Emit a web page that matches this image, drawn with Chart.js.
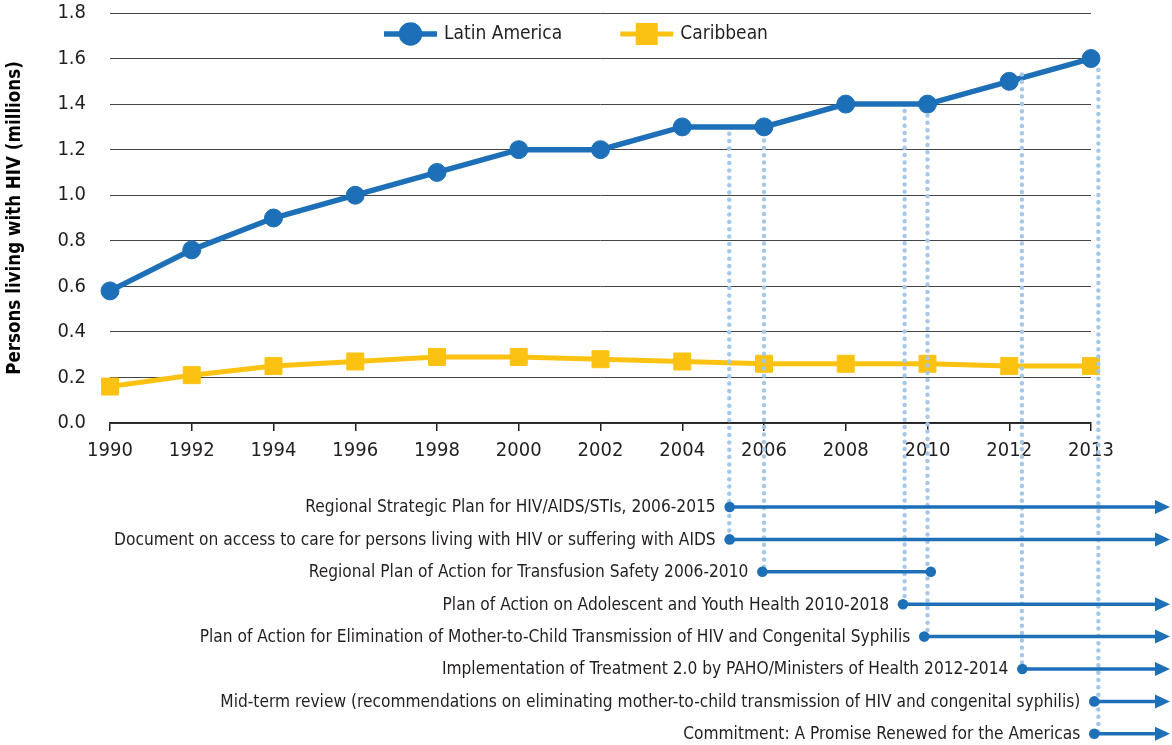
<!DOCTYPE html>
<html>
<head>
<meta charset="utf-8">
<script src="https://cdn.jsdelivr.net/npm/chart.js@4.4.0/dist/chart.umd.min.js"></script>
<style>
  html, body { margin: 0; padding: 0; background: #fff; }
  #wrap { width: 1172px; height: 745px; }
</style>
</head>
<body>
<div id="wrap"><canvas id="chart"></canvas></div>
<script>
const years = ['1990', '1992', '1994', '1996', '1998', '2000', '2002', '2004', '2006', '2008', '2010', '2012', '2013'];
const latinAmerica = [0.58, 0.76, 0.9, 1.0, 1.1, 1.2, 1.2, 1.3, 1.3, 1.4, 1.4, 1.5, 1.6];
const caribbean = [0.16, 0.21, 0.25, 0.27, 0.29, 0.29, 0.28, 0.27, 0.26, 0.26, 0.26, 0.25, 0.25];
const yTickValues = [0, 0.2, 0.4, 0.6, 0.8, 1.0, 1.2, 1.4, 1.6, 1.8];

// milestones below the axis; positions are category indexes on the x scale
const milestones = [
  'Regional Strategic Plan for HIV/AIDS/STIs, 2006-2015',
  'Document on access to care for persons living with HIV or suffering with AIDS',
  'Regional Plan of Action for Transfusion Safety 2006-2010',
  'Plan of Action on Adolescent and Youth Health 2010-2018',
  'Plan of Action for Elimination of Mother-to-Child Transmission of HIV and Congenital Syphilis',
  'Implementation of Treatment 2.0 by PAHO/Ministers of Health 2012-2014',
  'Mid-term review (recommendations on eliminating mother-to-child transmission of HIV and congenital syphilis)',
  'Commitment: A Promise Renewed for the Americas'
];
const milestoneStart = [7.58, 7.58, 7.98, 9.7, 9.96, 11.16, 12.04, 12.04];
const milestoneEnd = [null, null, 10.04, null, null, null, null, null]; // null = still running (arrow)

// dotted guides from the curve down to the milestone rows
const guideX = [7.575, 8.0, 9.72, 10.0, 11.155, 12.09];
const guideTop = [1.27, 1.24, 1.37, 1.35, 1.53, 1.55];
const guideRow = [1, 2, 3, 4, 5, 7];

const BLUE = '#1d70b8';
const YELLOW = '#fcc212';
const TEXT = '#231f20';
const FONT = '"DejaVu Sans Condensed", "DejaVu Sans", sans-serif';

const rowY = i => 507 + i * 32.4;

const timelinePlugin = {
  id: 'timeline',
  afterDraw(chart) {
    const { ctx, scales: { x, y } } = chart;
    ctx.save();

    // dotted guides
    ctx.strokeStyle = '#a6c8e8';
    ctx.lineWidth = 4.5;
    ctx.lineCap = 'round';
    ctx.setLineDash([0, 7.35]);
    guideX.forEach((g, i) => {
      const px = x.getPixelForValue(g);
      ctx.beginPath();
      ctx.moveTo(px, y.getPixelForValue(guideTop[i]));
      ctx.lineTo(px, rowY(guideRow[i]));
      ctx.stroke();
    });
    ctx.setLineDash([]);
    ctx.lineCap = 'butt';

    // milestone rows
    const edge = chart.width - 2;
    ctx.font = '17.2px ' + FONT;
    ctx.textAlign = 'right';
    ctx.textBaseline = 'middle';
    milestones.forEach((label, i) => {
      const yy = rowY(i);
      const x0 = x.getPixelForValue(milestoneStart[i]);
      const end = milestoneEnd[i];
      const x1 = end === null ? edge - 14 : x.getPixelForValue(end);

      ctx.strokeStyle = BLUE;
      ctx.fillStyle = BLUE;
      ctx.lineWidth = 3.5;
      ctx.beginPath();
      ctx.moveTo(x0, yy);
      ctx.lineTo(x1, yy);
      ctx.stroke();

      ctx.beginPath();
      ctx.arc(x0, yy, 5.3, 0, Math.PI * 2);
      ctx.fill();
      if (end === null) {
        ctx.beginPath();
        ctx.moveTo(edge - 15, yy - 7);
        ctx.lineTo(edge, yy);
        ctx.lineTo(edge - 15, yy + 7);
        ctx.closePath();
        ctx.fill();
      } else {
        ctx.beginPath();
        ctx.arc(x1, yy, 5.3, 0, Math.PI * 2);
        ctx.fill();
      }

      ctx.fillStyle = TEXT;
      ctx.fillText(label, x0 - 14, yy + 1);
    });

    // legend (line + marker), drawn inside the plot area
    ctx.font = '19px ' + FONT;
    ctx.textAlign = 'left';
    let lx = 384;
    const ly = 34;
    chart.data.datasets.forEach(ds => {
      ctx.strokeStyle = ds.borderColor;
      ctx.fillStyle = ds.borderColor;
      ctx.lineWidth = ds.borderWidth;
      ctx.beginPath();
      ctx.moveTo(lx, ly);
      ctx.lineTo(lx + 53, ly);
      ctx.stroke();
      Chart.helpers.drawPoint(ctx, {
        pointStyle: ds.pointStyle,
        radius: ds.pointRadius,
        borderWidth: 1
      }, lx + 26.5, ly);
      ctx.fill();
      ctx.fillStyle = TEXT;
      ctx.fillText(ds.label, lx + 60, ly);
      lx += 60 + ctx.measureText(ds.label).width + 58;
    });

    ctx.restore();
  }
};

new Chart(document.getElementById('chart'), {
  type: 'line',
  data: {
    labels: years,
    datasets: [
      {
        label: 'Latin America',
        data: latinAmerica,
        borderColor: BLUE,
        backgroundColor: BLUE,
        borderWidth: 5.5,
        pointStyle: 'circle',
        pointRadius: 9,
        pointBorderWidth: 1,
        tension: 0
      },
      {
        label: 'Caribbean',
        data: caribbean,
        borderColor: YELLOW,
        backgroundColor: YELLOW,
        borderWidth: 5,
        pointStyle: 'rect',
        pointRadius: 12,
        pointBorderWidth: 1,
        tension: 0
      }
    ]
  },
  options: {
    responsive: true,
    maintainAspectRatio: false,
    animation: false,
    layout: { padding: { top: 12, right: 81, left: 0, bottom: 0 } },
    plugins: {
      legend: { display: false },
      tooltip: { enabled: false }
    },
    scales: {
      x: {
        type: 'category',
        offset: false,
        afterFit(scale) { scale.height = 745 - 423; },
        grid: { drawOnChartArea: false, drawTicks: true, tickLength: 8, color: TEXT, lineWidth: 1.5 },
        border: { display: true, color: TEXT, width: 1.5 },
        ticks: {
          color: TEXT,
          padding: 8,
          maxRotation: 0,
          autoSkip: false,
          font: { family: FONT, size: 20 }
        }
      },
      y: {
        min: 0,
        max: 1.8,
        afterFit(scale) {
          scale.width = 110;
          scale.paddingTop = 0;
          scale.paddingBottom = 0;
        },
        afterBuildTicks(scale) { scale.ticks = yTickValues.map(v => ({ value: v })); },
        grid: { color: '#444', lineWidth: 1, drawTicks: false },
        border: { display: false },
        ticks: {
          color: TEXT,
          padding: 24,
          font: { family: FONT, size: 20 },
          callback: v => v.toFixed(1)
        },
        title: {
          display: true,
          text: 'Persons living with HIV (millions)',
          color: '#000',
          padding: { top: 4, bottom: 4 },
          font: { family: FONT, size: 18.6, weight: 'bold' }
        }
      }
    }
  },
  plugins: [timelinePlugin]
});
</script>
</body>
</html>
